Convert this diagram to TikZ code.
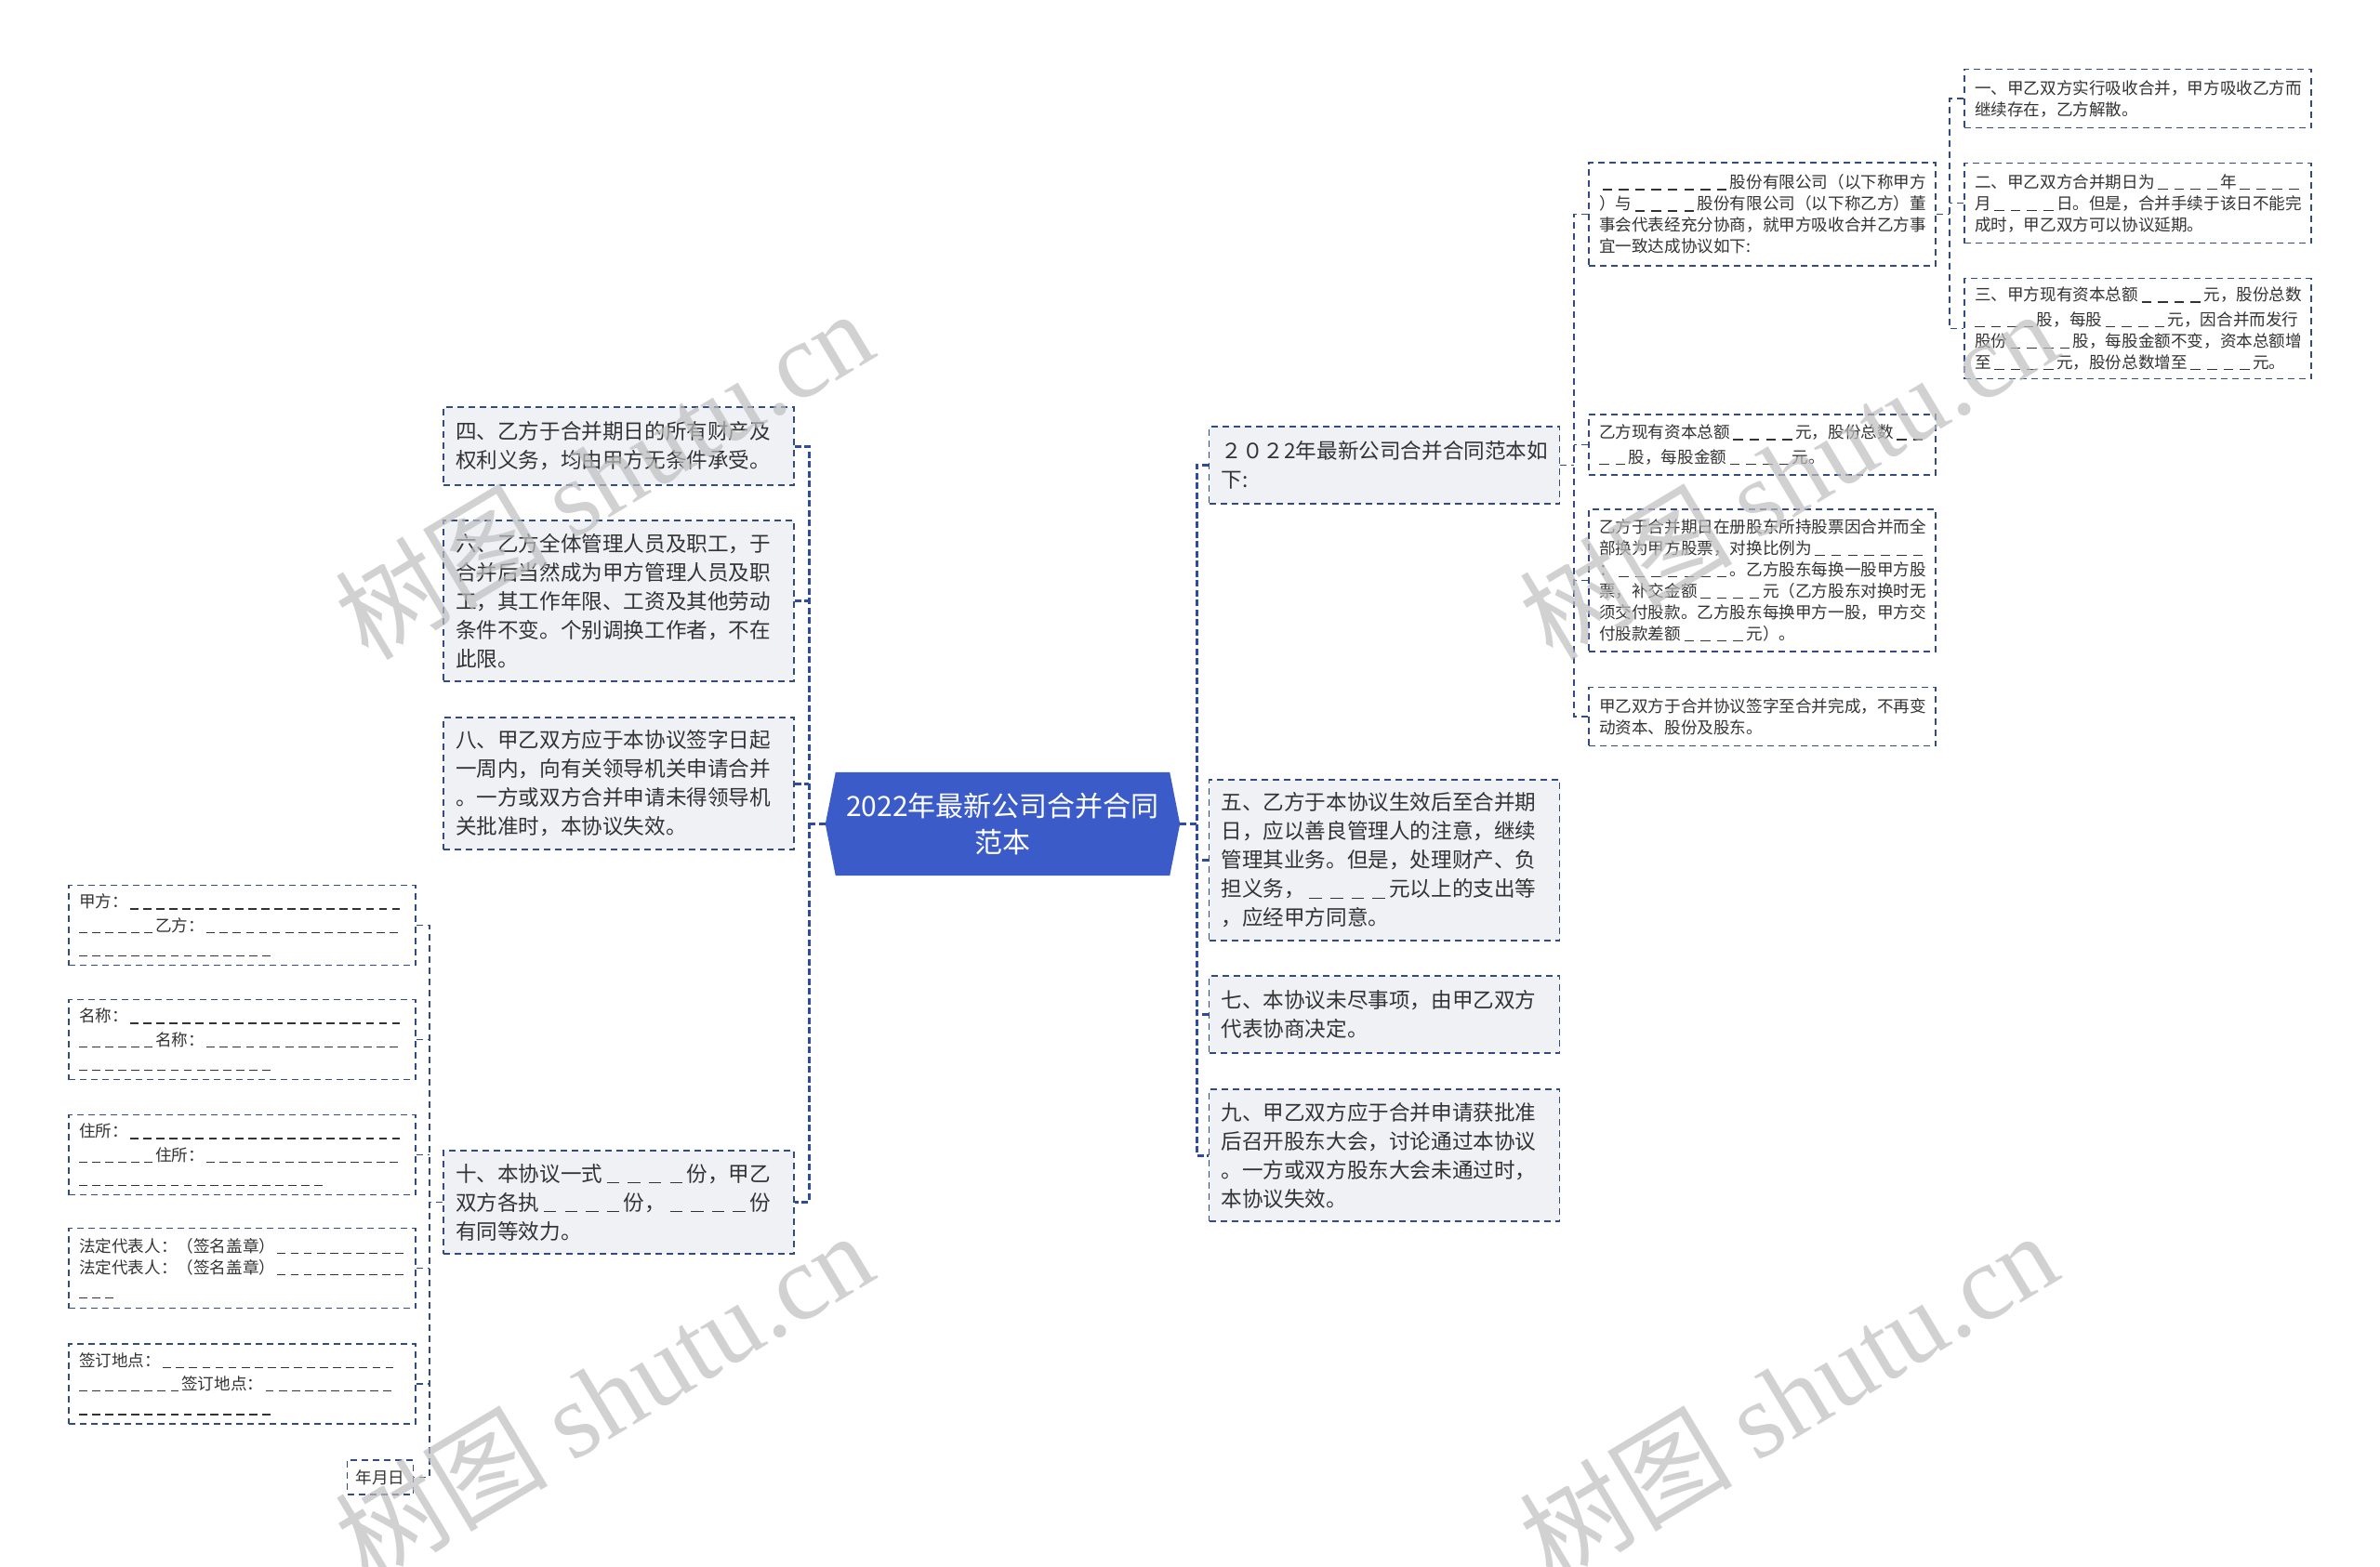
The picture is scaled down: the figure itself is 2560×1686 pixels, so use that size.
\documentclass[tikz,border=0pt]{standalone}
\usepackage{fontspec}
\setmainfont{Noto Sans CJK SC}
\newfontfamily\wmserif{Liberation Serif}
\usetikzlibrary{backgrounds}
\definecolor{rootblue}{RGB}{59,92,200}
\definecolor{boxline}{RGB}{50,75,130}
\definecolor{linkblue}{RGB}{45,75,160}
\definecolor{boxfill}{RGB}{239,241,245}
\definecolor{txt}{RGB}{51,51,51}
\definecolor{wmgray}{RGB}{190,190,190}
\newcount\dashcnt
\newcommand\blankF[1]{\dashcnt=#1\relax\loop\ifnum\dashcnt>0 \kern0.2em\rule[-0.1em]{0.6em}{0.07em}\kern0.2em\advance\dashcnt by -1\relax\repeat}
\newcommand\blankH[1]{\dashcnt=#1\relax\loop\ifnum\dashcnt>0 \kern0.13em\rule[-0.1em]{0.5em}{0.07em}\kern0.17em\advance\dashcnt by -1\relax\repeat}
\tikzset{
  boxbase/.style={draw=boxline, line width=1.5pt, dash pattern=on 7pt off 5pt, text=txt, inner ysep=0pt},
  lvone/.style={boxbase, fill=boxfill, font=\fontsize{22.6}{31}\selectfont, align=left, inner xsep=13pt, text width=351pt},
  lvtwo/.style={boxbase, fill=white, font=\fontsize{17.6}{23}\selectfont, align=left, inner xsep=11pt, text width=351pt},
  lvsmall/.style={boxbase, fill=white, font=\fontsize{17.6}{23}\selectfont, inner xsep=9pt},
  rootlink/.style={draw=linkblue, line width=3pt, dash pattern=on 7pt off 3.5pt},
  sublink/.style={draw=boxline, line width=1.6pt, dash pattern=on 7pt off 5pt},
  wmark/.style={text=wmgray, opacity=0.7, rotate=31, font=\fontsize{115}{120}\selectfont},
}
\begin{document}
\begin{tikzpicture}[x=1pt,y=-1pt]
\useasboundingbox (0,0) rectangle (2560,1686);

% root
\node[text=white, font=\fontsize{30}{39}\selectfont, align=center, minimum width=381pt, minimum height=111pt, inner sep=0pt] (root) at (1078.5,886.5) {2022年最新公司合并合同\\范本};
\begin{scope}[on background layer]
\fill[white] (0,0) rectangle (2560,1686);
\fill[rootblue] (root.west) -- ([xshift=11pt]root.north west) -- ([xshift=-11pt]root.north east) -- (root.east) -- ([xshift=-11pt]root.south east) -- ([xshift=11pt]root.south west) -- cycle;
\end{scope}

% left level 1
\node[lvone, minimum height=84pt] (n4) at (665.5,480) {四、乙方于合并期日的所有财产及\\权利义务，均由甲方无条件承受。};
\node[lvone, minimum height=173pt] (n6) at (665.5,646.5) {六、乙方全体管理人员及职工，于\\合并后当然成为甲方管理人员及职\\工，其工作年限、工资及其他劳动\\条件不变。个别调换工作者，不在\\此限。};
\node[lvone, minimum height=142pt] (n8) at (665.5,843) {八、甲乙双方应于本协议签字日起\\一周内，向有关领导机关申请合并\\。一方或双方合并申请未得领导机\\关批准时，本协议失效。};
\node[lvone, minimum height=111pt] (n10) at (665.5,1293.5) {十、本协议一式\blankF{4}份，甲乙\\双方各执\blankF{4}份，\blankF{4}份\\有同等效力。};

% right level 1
\node[lvone, minimum height=83pt] (r0) at (1489,500.5) {２０２2年最新公司合并合同范本如\\下:};
\node[lvone, minimum height=173pt] (r5) at (1489,925.5) {五、乙方于本协议生效后至合并期\\日，应以善良管理人的注意，继续\\管理其业务。但是，处理财产、负\\担义务，\blankF{4}元以上的支出等\\，应经甲方同意。};
\node[lvone, minimum height=83pt] (r7) at (1489,1091.5) {七、本协议未尽事项，由甲乙双方\\代表协商决定。};
\node[lvone, minimum height=142pt] (r9) at (1489,1243) {九、甲乙双方应于合并申请获批准\\后召开股东大会，讨论通过本协议\\。一方或双方股东大会未通过时，\\本协议失效。};

% level 2 (right)
\node[lvtwo, minimum height=111pt] (a) at (1895.5,230.5) {\blankF{8}股份有限公司（以下称甲方\\）与\blankF{4}股份有限公司（以下称乙方）董\\事会代表经充分协商，就甲方吸收合并乙方事\\宜一致达成协议如下:};
\node[lvtwo, minimum height=65pt] (b) at (1895.5,478.5) {乙方现有资本总额\blankF{4}元，股份总数\blankF{2}\\\blankF{2}股，每股金额\blankF{4}元。};
\node[lvtwo, minimum height=153pt] (c) at (1895.5,624.5) {乙方于合并期日在册股东所持股票因合并而全\\部换为甲方股票，对换比例为\blankF{7}\\：\blankF{7}。乙方股东每换一股甲方股\\票，补交金额\blankF{4}元（乙方股东对换时无\\须交付股款。乙方股东每换甲方一股，甲方交\\付股款差额\blankF{4}元）。};
\node[lvtwo, minimum height=63pt] (d) at (1895.5,771) {甲乙双方于合并协议签字至合并完成，不再变\\动资本、股份及股东。};

% level 3
\node[lvtwo, minimum height=63pt] (e1) at (2299.5,106) {一、甲乙双方实行吸收合并，甲方吸收乙方而\\继续存在，乙方解散。};
\node[lvtwo, minimum height=86pt] (e2) at (2299.5,218.5) {二、甲乙双方合并期日为\blankF{4}年\blankF{4}\\月\blankF{4}日。但是，合并手续于该日不能完\\成时，甲乙双方可以协议延期。};
\node[lvtwo, minimum height=108pt] (e3) at (2299.5,353.5) {三、甲方现有资本总额\blankF{4}元，股份总数\\\blankF{4}股，每股\blankF{4}元，因合并而发行\\股份\blankF{4}股，每股金额不变，资本总额增\\至\blankF{4}元，股份总数增至\blankF{4}元。};

% signature boxes
\node[lvtwo, minimum height=86pt] (s1) at (260.5,995.5) {甲方：\blankH{21}\\\blankH{6}乙方：\blankH{15}\\\blankH{15}};
\node[lvtwo, minimum height=86pt] (s2) at (260.5,1118.5) {名称：\blankH{21}\\\blankH{6}名称：\blankH{15}\\\blankH{15}};
\node[lvtwo, minimum height=86pt] (s3) at (260.5,1242.5) {住所：\blankH{21}\\\blankH{6}住所：\blankH{15}\\\blankH{19}};
\node[lvtwo, minimum height=86pt] (s4) at (260.5,1364.5) {法定代表人：（签名盖章）\blankH{10}\\法定代表人：（签名盖章）\blankH{10}\\\blankH{3}};
\node[lvtwo, minimum height=86pt] (s5) at (260.5,1489) {签订地点：\blankH{18}\\\blankH{8}签订地点：\blankH{10}\\\blankH{15}};
\node[lvsmall, minimum width=70pt, minimum height=37pt] (s6) at (409,1589.5) {年月日};

% connectors: root to left
\coordinate (lsp) at (870,886.5);
\draw[rootlink] (root.west) -- (root.west -| lsp);
\draw[rootlink] (n4.east) -- (n4.east -| lsp) -- (n10.east -| lsp) -- (n10.east);
\draw[rootlink] (n6.east) -- (n6.east -| lsp);
\draw[rootlink] (n8.east) -- (n8.east -| lsp);
% root to right
\coordinate (rsp) at (1287,886.5);
\draw[rootlink] (root.east) -- (root.east -| rsp);
\draw[rootlink] (r0.west) -- (r0.west -| rsp) -- (r9.west -| rsp) -- (r9.west);
\draw[rootlink] (r5.west) -- (r5.west -| rsp);
\draw[rootlink] (r7.west) -- (r7.west -| rsp);
% r0 children
\coordinate (r0sp) at (1693,500.5);
\draw[sublink] (r0.east) -- (r0sp);
\draw[sublink] (a.west) -- (a.west -| r0sp) -- (d.west -| r0sp) -- (d.west);
\draw[sublink] (b.west) -- (b.west -| r0sp);
\draw[sublink] (c.west) -- (c.west -| r0sp);
% a children
\coordinate (asp) at (2097,230.5);
\draw[sublink] (a.east) -- (asp);
\draw[sublink] (e1.west) -- (e1.west -| asp) -- (e3.west -| asp) -- (e3.west);
\draw[sublink] (e2.west) -- (e2.west -| asp);
% n10 children
\coordinate (tsp) at (462,1293.5);
\draw[sublink] (n10.west) -- (tsp);
\draw[sublink] (s1.east) -- (s1.east -| tsp) -- (s6.east -| tsp) -- (s6.east);
\draw[sublink] (s2.east) -- (s2.east -| tsp);
\draw[sublink] (s3.east) -- (s3.east -| tsp);
\draw[sublink] (s4.east) -- (s4.east -| tsp);
\draw[sublink] (s5.east) -- (s5.east -| tsp);

% watermarks
\node[wmark] (wm1) at (649,510) {树图 {\wmserif shutu.cn}};
\node[wmark] (wm2) at (1923,510) {树图 {\wmserif shutu.cn}};
\node[wmark] (wm3) at (649,1502) {树图 {\wmserif shutu.cn}};
\node[wmark] (wm4) at (1923,1502) {树图 {\wmserif shutu.cn}};
\end{tikzpicture}
\end{document}
